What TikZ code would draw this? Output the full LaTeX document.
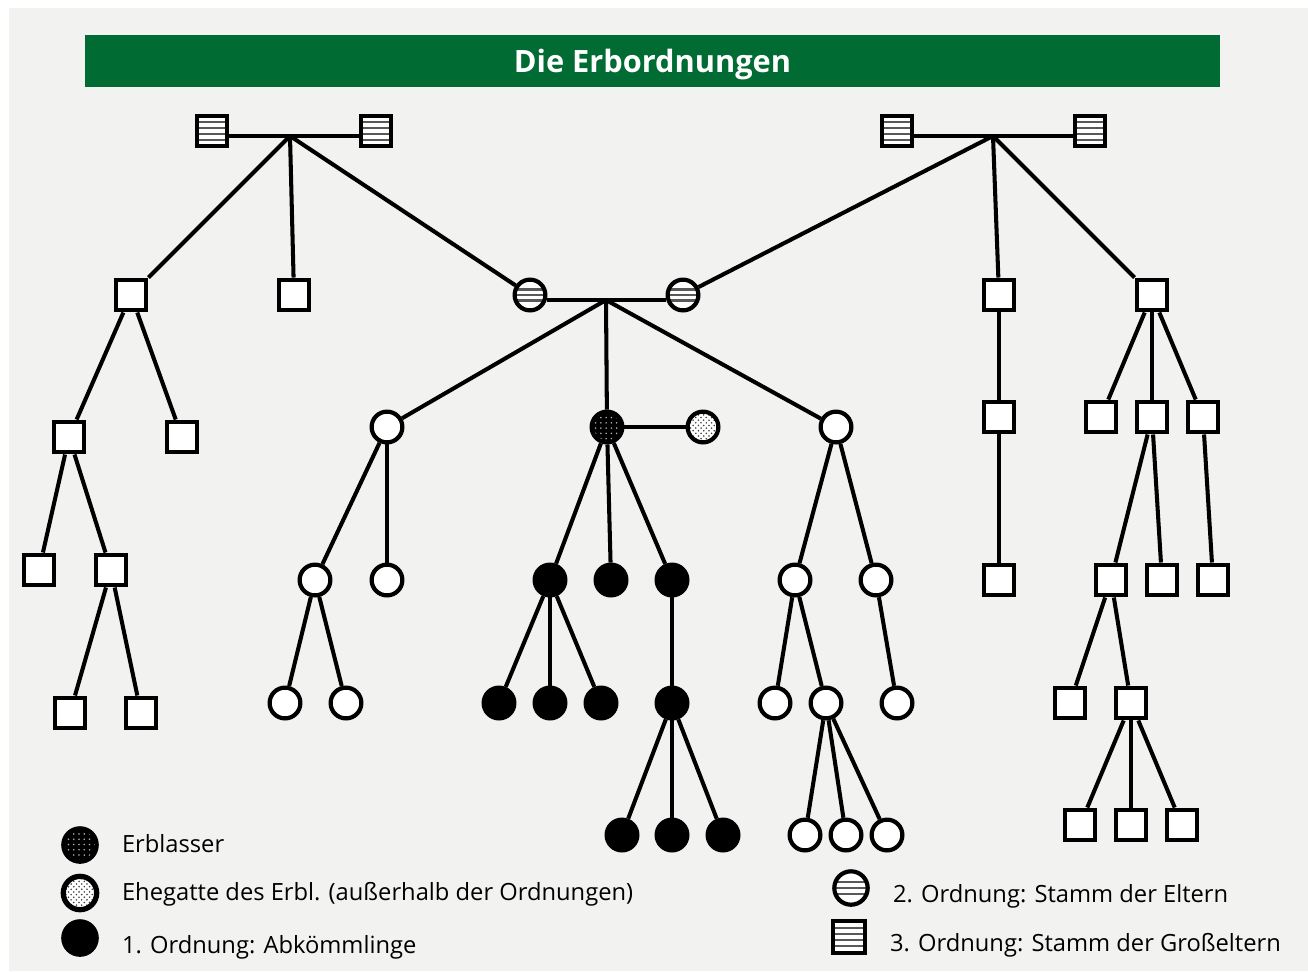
\documentclass[tikz,border=0pt]{standalone}
\usepackage{fontspec}
\setmainfont{Open Sans}
\usetikzlibrary{patterns,calc}
\definecolor{bggray}{HTML}{F2F2F1}
\definecolor{titlegreen}{HTML}{006B33}
\newcommand\legfont{\fontsize{13.5}{16}\selectfont}

\begin{document}
\begin{tikzpicture}[x=0.02cm, y=-0.02cm, line width=2.3pt,
  person/.style={draw, line width=2.4pt, fill=white, inner sep=0pt, minimum size=17.5pt},
  sq/.style={person, rectangle},
  ci/.style={person, circle},
  ab/.style={ci, fill=black},
  erbl/.style={ci, preaction={fill=black}, pattern=dots, pattern color=white!70!black},
  gatte/.style={ci, preaction={fill=white}, pattern=crosshatch dots, pattern color=black!75},
  striped/.style={path picture={
    \foreach \f in {#1}
      \draw[black!65, line width=1.2pt]
        ($(path picture bounding box.north west)!\f!(path picture bounding box.south west)$) --
        ($(path picture bounding box.north east)!\f!(path picture bounding box.south east)$);}},
  grosselt/.style={sq, striped={0.22,0.41,0.59,0.78}},
  eltern/.style={ci, striped={0.32,0.5,0.68}},
  legtext/.style={anchor=base west, font=\legfont, inner sep=0pt}]
   \useasboundingbox (0,0) rectangle (1308,971);
   \fill[bggray] (9,8) rectangle (1308,971);
   \node[fill=titlegreen, text=white, font=\fontsize{17.5}{20}\selectfont\bfseries,
     text depth=0pt, minimum width=22.7cm, minimum height=1.04cm] (title) at (652.5,61) {Die Erbordnungen};

   % grandparents
   \node[grosselt] (gl1) at (212,131) {};
   \node[grosselt] (gl2) at (376,131) {};
   \coordinate (jgl) at (290,136);
   \node[grosselt] (gr1) at (897,131) {};
   \node[grosselt] (gr2) at (1090,131) {};
   \coordinate (jgr) at (993,136);
   % parents
   \node[eltern] (el1) at (530,295) {};
   \node[eltern] (el2) at (683,295) {};
   \coordinate (jel) at (606,300);
   % left side of the grandparents
   \node[sq] (a1) at (131,295) {};
   \node[sq] (a2) at (294,295) {};
   \node[sq] (a11) at (69,437) {};
   \node[sq] (a12) at (182,437) {};
   \node[sq] (a111) at (39,570) {};
   \node[sq] (a112) at (111,570) {};
   \node[sq] (a1121) at (70,713) {};
   \node[sq] (a1122) at (141,713) {};
   % right side of the grandparents
   \node[sq] (b1) at (999,295) {};
   \node[sq] (b11) at (999,417) {};
   \node[sq] (b111) at (999,580) {};
   \node[sq] (b2) at (1152,295) {};
   \node[sq] (b21) at (1101,417) {};
   \node[sq] (b22) at (1152,417) {};
   \node[sq] (b23) at (1203,417) {};
   \node[sq] (b221) at (1111,580) {};
   \node[sq] (b222) at (1162,580) {};
   \node[sq] (b231) at (1213,580) {};
   \node[sq] (b2211) at (1070,703) {};
   \node[sq] (b2212) at (1131,703) {};
   \node[sq] (b22121) at (1080,825) {};
   \node[sq] (b22122) at (1131,825) {};
   \node[sq] (b22123) at (1182,825) {};
   % siblings
   \node[ci] (s1) at (387,427) {};
   \node[ci] (s11) at (315,580) {};
   \node[ci] (s12) at (387,580) {};
   \node[ci] (s111) at (285,703) {};
   \node[ci] (s112) at (346,703) {};
   \node[ci] (s2) at (836,427) {};
   \node[ci] (s21) at (795,580) {};
   \node[ci] (s22) at (876,580) {};
   \node[ci] (s211) at (775,703) {};
   \node[ci] (s212) at (826,703) {};
   \node[ci] (s221) at (897,703) {};
   \node[ci] (s2121) at (805,835) {};
   \node[ci] (s2122) at (846,835) {};
   \node[ci] (s2123) at (887,835) {};
   % Erblasser, Ehegatte, Abkoemmlinge
   \node[erbl] (e) at (607,427) {};
   \node[gatte] (g) at (703,427) {};
   \node[ab] (k1) at (550,580) {};
   \node[ab] (k2) at (611,580) {};
   \node[ab] (k3) at (672,580) {};
   \node[ab] (k11) at (499,703) {};
   \node[ab] (k12) at (550,703) {};
   \node[ab] (k13) at (601,703) {};
   \node[ab] (k31) at (672,703) {};
   \node[ab] (k311) at (622,835) {};
   \node[ab] (k312) at (672,835) {};
   \node[ab] (k313) at (723,835) {};

   \draw (gl1.east |- jgl) -- (gl2.west |- jgl);
   \draw (gr1.east |- jgr) -- (gr2.west |- jgr);
   \draw (el1.east |- jel) -- (el2.west |- jel);
   \draw (e) -- (g);
   \foreach \a/\b in {jgl/a1, jgl/a2, jgl/el1, jgr/el2, jgr/b1, jgr/b2,
       a1/a11, a1/a12, a11/a111, a11/a112, a112/a1121, a112/a1122,
       b1/b11, b11/b111, b2/b21, b2/b22, b2/b23, b22/b221, b22/b222, b23/b231,
       b221/b2211, b221/b2212, b2212/b22121, b2212/b22122, b2212/b22123,
       jel/s1, jel/e, jel/s2, s1/s11, s1/s12, s11/s111, s11/s112,
       s2/s21, s2/s22, s21/s211, s21/s212, s22/s221, s212/s2121, s212/s2122, s212/s2123,
       e/k1, e/k2, e/k3, k1/k11, k1/k12, k1/k13, k3/k31, k31/k311, k31/k312, k31/k313}
     \draw (\a) -- (\b);

   % legend
   \node[erbl, minimum size=19pt] (lerbl) at (80,845) {};
   \node[gatte, minimum size=19pt, line width=3pt] (lgatte) at (80,893) {};
   \node[ab, minimum size=19pt] (lab) at (80,938) {};
   \node[legtext] (terbl) at (120,852) {Erblasser};
   \node[legtext] (tgatte) at (120,900) {Ehegatte des Erbl. (außerhalb der Ordnungen)};
   \node[legtext] (tab) at (120,953) {1. Ordnung: Abkömmlinge};
   \node[eltern, minimum size=19pt] (lelt) at (851,888) {};
   \node[grosselt, minimum size=18pt] (lgross) at (849,937) {};
   \node[legtext] (telt) at (891,902) {2. Ordnung: Stamm der Eltern};
   \node[legtext] (tgross) at (888,951) {3. Ordnung: Stamm der Großeltern};
\end{tikzpicture}
\end{document}
